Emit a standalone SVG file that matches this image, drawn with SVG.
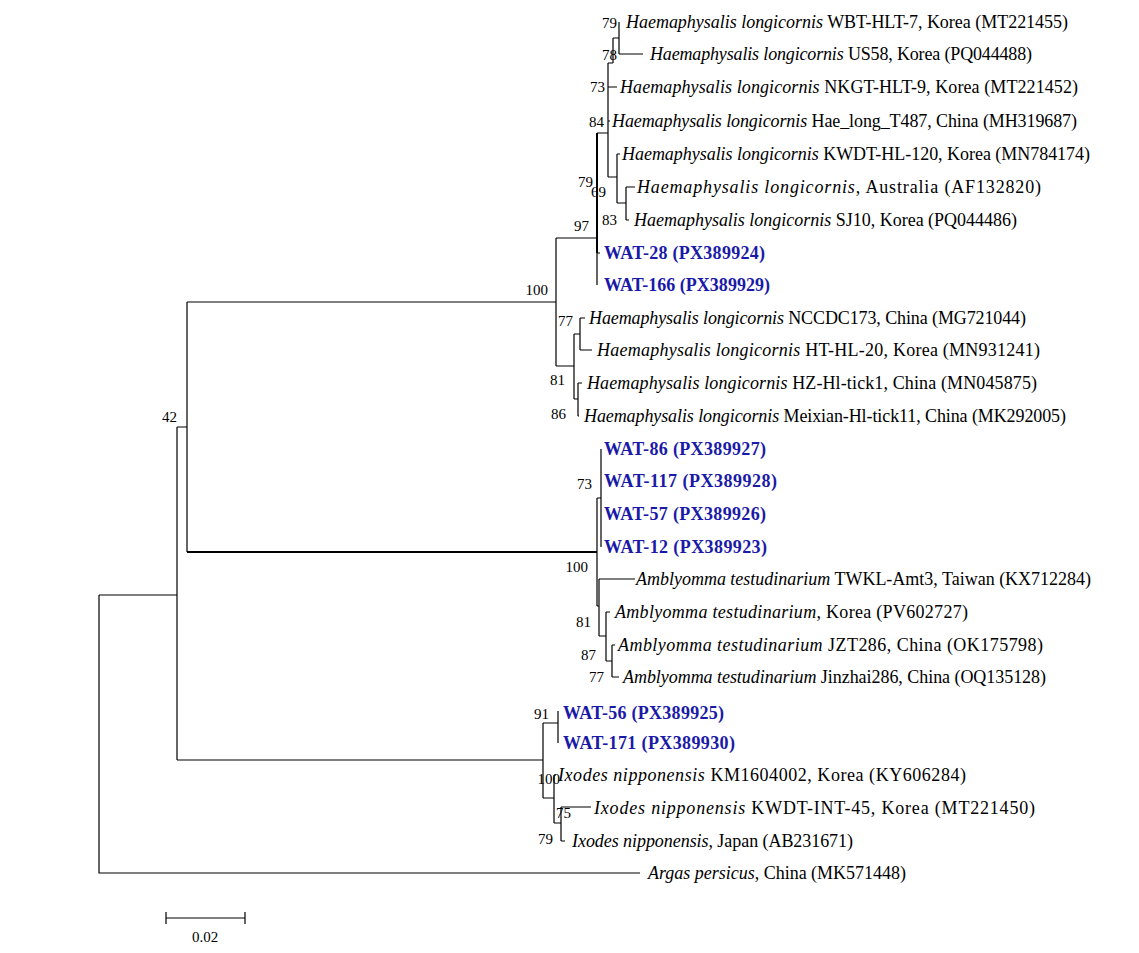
<svg xmlns="http://www.w3.org/2000/svg" width="1139" height="953" viewBox="0 0 1139 953">
<style>
text{font-family:"Liberation Serif","Times New Roman",serif;font-size:18px;fill:#000}
.i{font-style:italic}
.w{font-weight:bold;fill:#1a1aa8}
.b{font-size:15px;text-anchor:end}
#tree path{fill:none;stroke:#000;stroke-width:1.2}
#tree .t{stroke-width:2}
</style>
<rect width="1139" height="953" fill="#fff"/>
<g id="tree">
<path d="M99,595V873H640M99,595H177M177,427V760M177,427H187M187,302V552M177,760H543"/>
<path class="t" d="M187,552H597"/>
<path d="M187,302H556M556,238V366M556,238H597M597,133V285M597,253H600"/>
<path class="t" d="M597,133V253"/>
<path d="M597,133H608M608,63V177M608,63H613M613,38V63M613,38H619M619,22V54M619,54H643M608,87H617M608,121H610M608,177H617M617,154V203M617,154H620M617,203H626M626,187V220M626,187H635M626,220H629"/>
<path d="M556,366H574M574,334V399M574,334H580M580,318V350M580,318H585M580,350H592M574,399H578M578,383V416M578,383H582M578,416H579"/>
<path d="M597,498V606M597,498H601M601,449V547M597,606H599M599,579V636M599,579H635M599,636H606M606,612V661M606,612H610M606,661H612M612,645V677M612,645H615M612,677H619"/>
<path d="M543,723V798M543,723H558M558,711V743M543,798H554M554,775V823M554,775H556M554,823H561M561,807V841M561,807H591M561,841H565"/>
</g>
<g id="labels">
<text class="b" x="617" y="28">79</text>
<text class="b" x="617" y="60">78</text>
<text class="b" x="605" y="92">73</text>
<text class="b" x="604" y="127">84</text>
<text class="b" x="593" y="187">79</text>
<text class="b" x="606" y="197">69</text>
<text class="b" x="617" y="225">83</text>
<text class="b" x="589" y="231">97</text>
<text class="b" x="548" y="295">100</text>
<text class="b" x="573" y="326">77</text>
<text class="b" x="565" y="385">81</text>
<text class="b" x="566" y="419">86</text>
<text class="b" x="592" y="489">73</text>
<text class="b" x="588" y="572">100</text>
<text class="b" x="591" y="627">81</text>
<text class="b" x="596" y="660">87</text>
<text class="b" x="604" y="682">77</text>
<text class="b" x="549" y="719">91</text>
<text class="b" x="560" y="784">100</text>
<text class="b" x="571" y="818">75</text>
<text class="b" x="553" y="844">79</text>
<text class="b" x="177" y="422">42</text>
</g>
<g id="leaves">
<text x="626" y="28" textLength="442" lengthAdjust="spacing"><tspan class="i">Haemaphysalis longicornis</tspan> WBT-HLT-7, Korea (MT221455)</text>
<text x="650" y="60" textLength="382" lengthAdjust="spacing"><tspan class="i">Haemaphysalis longicornis</tspan> US58, Korea (PQ044488)</text>
<text x="620" y="93" textLength="458" lengthAdjust="spacing"><tspan class="i">Haemaphysalis longicornis</tspan>  NKGT-HLT-9, Korea (MT221452)</text>
<text x="612" y="127" textLength="465" lengthAdjust="spacing"><tspan class="i">Haemaphysalis longicornis</tspan> Hae_long_T487, China (MH319687)</text>
<text x="622" y="160" textLength="468" lengthAdjust="spacing"><tspan class="i">Haemaphysalis longicornis</tspan> KWDT-HL-120, Korea (MN784174)</text>
<text x="637" y="193" textLength="404" lengthAdjust="spacing"><tspan class="i">Haemaphysalis longicornis</tspan>, Australia (AF132820)</text>
<text x="634" y="226" textLength="383" lengthAdjust="spacing"><tspan class="i">Haemaphysalis longicornis</tspan> SJ10, Korea (PQ044486)</text>
<text class="w" x="604" y="259" textLength="161" lengthAdjust="spacing">WAT-28 (PX389924)</text>
<text class="w" x="604" y="291" textLength="166" lengthAdjust="spacing">WAT-166 (PX389929)</text>
<text x="589" y="324" textLength="437" lengthAdjust="spacing"><tspan class="i">Haemaphysalis longicornis</tspan> NCCDC173, China (MG721044)</text>
<text x="597" y="356" textLength="443" lengthAdjust="spacing"><tspan class="i">Haemaphysalis longicornis</tspan> HT-HL-20, Korea (MN931241)</text>
<text x="587" y="389" textLength="450" lengthAdjust="spacing"><tspan class="i">Haemaphysalis longicornis</tspan> HZ-Hl-tick1, China (MN045875)</text>
<text x="584" y="422" textLength="482" lengthAdjust="spacing"><tspan class="i">Haemaphysalis longicornis</tspan> Meixian-Hl-tick11, China (MK292005)</text>
<text class="w" x="604" y="455" textLength="162" lengthAdjust="spacing">WAT-86 (PX389927)</text>
<text class="w" x="604" y="487" textLength="173" lengthAdjust="spacing">WAT-117 (PX389928)</text>
<text class="w" x="604" y="520" textLength="162" lengthAdjust="spacing">WAT-57 (PX389926)</text>
<text class="w" x="604" y="553" textLength="163" lengthAdjust="spacing">WAT-12 (PX389923)</text>
<text x="636" y="585" textLength="455" lengthAdjust="spacing"><tspan class="i">Amblyomma testudinarium</tspan> TWKL-Amt3, Taiwan  (KX712284)</text>
<text x="615" y="618" textLength="353" lengthAdjust="spacing"><tspan class="i">Amblyomma testudinarium</tspan>, Korea (PV602727)</text>
<text x="618" y="651" textLength="425" lengthAdjust="spacing"><tspan class="i">Amblyomma testudinarium</tspan> JZT286, China (OK175798)</text>
<text x="623" y="683" textLength="423" lengthAdjust="spacing"><tspan class="i">Amblyomma testudinarium</tspan> Jinzhai286, China (OQ135128)</text>
<text class="w" x="563" y="719" textLength="161" lengthAdjust="spacing">WAT-56 (PX389925)</text>
<text class="w" x="563" y="749" textLength="172" lengthAdjust="spacing">WAT-171 (PX389930)</text>
<text x="558" y="781" textLength="408" lengthAdjust="spacing"><tspan class="i">Ixodes nipponensis</tspan> KM1604002, Korea (KY606284)</text>
<text x="594" y="814" textLength="441" lengthAdjust="spacing"><tspan class="i">Ixodes nipponensis</tspan> KWDT-INT-45, Korea (MT221450)</text>
<text x="572" y="847" textLength="281" lengthAdjust="spacing"><tspan class="i">Ixodes nipponensis</tspan>, Japan (AB231671)</text>
<text x="648" y="879" textLength="258" lengthAdjust="spacing"><tspan class="i">Argas persicus</tspan>, China (MK571448)</text>
</g>
<g id="scale">
<path d="M166,918H245M166,912V924M245,912V924" fill="none" stroke="#000" stroke-width="1.2"/>
<text x="205" y="942" text-anchor="middle" style="font-size:15px">0.02</text>
</g>
</svg>
